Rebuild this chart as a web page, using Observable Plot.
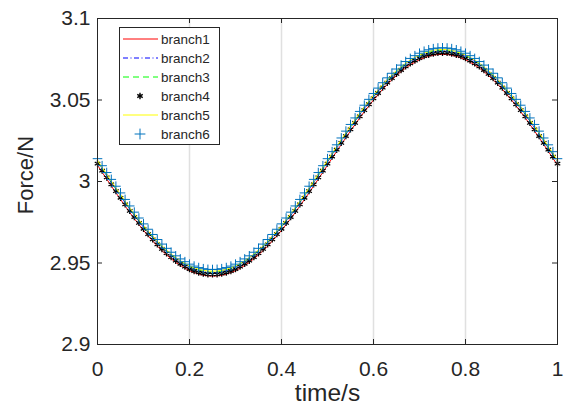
<!DOCTYPE html>
<html>
<head>
<meta charset="utf-8">
<script src="https://cdn.jsdelivr.net/npm/d3@7"></script>
<script src="https://cdn.jsdelivr.net/npm/@observablehq/plot@0.6"></script>
<style>
  html, body { margin: 0; padding: 0; background: #fff; }
  #chart { width: 567px; height: 412px; }
</style>
</head>
<body>
<div id="chart"></div>
<script>
// ---- data ----
const time = [0,0.01,0.02,0.03,0.04,0.05,0.06,0.07,0.08,0.09,0.1,0.11,0.12,0.13,0.14,0.15,0.16,0.17,0.18,0.19,0.2,0.21,0.22,0.23,0.24,0.25,0.26,0.27,0.28,0.29,0.3,0.31,0.32,0.33,0.34,0.35,0.36,0.37,0.38,0.39,0.4,0.41,0.42,0.43,0.44,0.45,0.46,0.47,0.48,0.49,0.5,0.51,0.52,0.53,0.54,0.55,0.56,0.57,0.58,0.59,0.6,0.61,0.62,0.63,0.64,0.65,0.66,0.67,0.68,0.69,0.7,0.71,0.72,0.73,0.74,0.75,0.76,0.77,0.78,0.79,0.8,0.81,0.82,0.83,0.84,0.85,0.86,0.87,0.88,0.89,0.9,0.91,0.92,0.93,0.94,0.95,0.96,0.97,0.98,0.99,1];

const branch1 = [3.0100,3.0057,3.0015,2.9973,2.9931,2.9890,2.9850,2.9810,2.9772,2.9736,2.9700,2.9667,2.9635,2.9604,2.9576,2.9550,2.9526,2.9504,2.9485,2.9468,2.9453,2.9441,2.9432,2.9425,2.9421,2.9420,
2.9421,2.9425,2.9432,2.9441,2.9453,2.9468,2.9485,2.9504,2.9526,2.9550,2.9576,2.9604,2.9635,2.9667,2.9700,2.9736,2.9772,2.9810,2.9850,2.9890,2.9931,2.9973,3.0015,3.0057,3.0100,
3.0143,3.0185,3.0227,3.0269,3.0310,3.0350,3.0390,3.0428,3.0464,3.0500,3.0533,3.0566,3.0596,3.0624,3.0650,3.0674,3.0696,3.0715,3.0732,3.0747,3.0759,3.0768,3.0775,3.0779,3.0780,
3.0779,3.0775,3.0768,3.0759,3.0747,3.0732,3.0715,3.0696,3.0674,3.0650,3.0624,3.0596,3.0566,3.0533,3.0500,3.0464,3.0428,3.0390,3.0350,3.0310,3.0269,3.0227,3.0185,3.0143,3.0100];

const branch2 = [3.0120,3.0077,3.0035,2.9993,2.9951,2.9910,2.9870,2.9830,2.9792,2.9756,2.9720,2.9687,2.9655,2.9624,2.9596,2.9570,2.9546,2.9524,2.9505,2.9488,2.9473,2.9461,2.9452,2.9445,2.9441,2.9440,
2.9441,2.9445,2.9452,2.9461,2.9473,2.9488,2.9505,2.9524,2.9546,2.9570,2.9596,2.9624,2.9655,2.9687,2.9720,2.9756,2.9792,2.9830,2.9870,2.9910,2.9951,2.9993,3.0035,3.0077,3.0120,
3.0163,3.0205,3.0247,3.0289,3.0330,3.0370,3.0410,3.0448,3.0484,3.0520,3.0553,3.0586,3.0616,3.0644,3.0670,3.0694,3.0716,3.0735,3.0752,3.0767,3.0779,3.0788,3.0795,3.0799,3.0800,
3.0799,3.0795,3.0788,3.0779,3.0767,3.0752,3.0735,3.0716,3.0694,3.0670,3.0644,3.0616,3.0586,3.0553,3.0520,3.0484,3.0448,3.0410,3.0370,3.0330,3.0289,3.0247,3.0205,3.0163,3.0120];

const branch3 = [3.0125,3.0082,3.0040,2.9998,2.9956,2.9915,2.9875,2.9835,2.9797,2.9761,2.9725,2.9692,2.9660,2.9629,2.9601,2.9575,2.9551,2.9529,2.9510,2.9493,2.9478,2.9466,2.9457,2.9450,2.9446,2.9445,
2.9446,2.9450,2.9457,2.9466,2.9478,2.9493,2.9510,2.9529,2.9551,2.9575,2.9601,2.9629,2.9660,2.9692,2.9725,2.9761,2.9797,2.9835,2.9875,2.9915,2.9956,2.9998,3.0040,3.0082,3.0125,
3.0168,3.0210,3.0252,3.0294,3.0335,3.0375,3.0415,3.0453,3.0489,3.0525,3.0558,3.0591,3.0621,3.0649,3.0675,3.0699,3.0721,3.0740,3.0757,3.0772,3.0784,3.0793,3.0800,3.0804,3.0805,
3.0804,3.0800,3.0793,3.0784,3.0772,3.0757,3.0740,3.0721,3.0699,3.0675,3.0649,3.0621,3.0591,3.0558,3.0525,3.0489,3.0453,3.0415,3.0375,3.0335,3.0294,3.0252,3.0210,3.0168,3.0125];

const branch4 = [3.0110,3.0067,3.0025,2.9983,2.9941,2.9900,2.9860,2.9820,2.9782,2.9746,2.9710,2.9677,2.9645,2.9614,2.9586,2.9560,2.9536,2.9514,2.9495,2.9478,2.9463,2.9451,2.9442,2.9435,2.9431,2.9430,
2.9431,2.9435,2.9442,2.9451,2.9463,2.9478,2.9495,2.9514,2.9536,2.9560,2.9586,2.9614,2.9645,2.9677,2.9710,2.9746,2.9782,2.9820,2.9860,2.9900,2.9941,2.9983,3.0025,3.0067,3.0110,
3.0153,3.0195,3.0237,3.0279,3.0320,3.0360,3.0400,3.0438,3.0474,3.0510,3.0543,3.0576,3.0606,3.0634,3.0660,3.0684,3.0706,3.0725,3.0742,3.0757,3.0769,3.0778,3.0785,3.0789,3.0790,
3.0789,3.0785,3.0778,3.0769,3.0757,3.0742,3.0725,3.0706,3.0684,3.0660,3.0634,3.0606,3.0576,3.0543,3.0510,3.0474,3.0438,3.0400,3.0360,3.0320,3.0279,3.0237,3.0195,3.0153,3.0110];

const branch5 = [3.0130,3.0087,3.0045,3.0003,2.9961,2.9920,2.9880,2.9840,2.9802,2.9766,2.9730,2.9697,2.9665,2.9634,2.9606,2.9580,2.9556,2.9534,2.9515,2.9498,2.9483,2.9471,2.9462,2.9455,2.9451,2.9450,
2.9451,2.9455,2.9462,2.9471,2.9483,2.9498,2.9515,2.9534,2.9556,2.9580,2.9606,2.9634,2.9665,2.9697,2.9730,2.9766,2.9802,2.9840,2.9880,2.9920,2.9961,3.0003,3.0045,3.0087,3.0130,
3.0173,3.0215,3.0257,3.0299,3.0340,3.0380,3.0420,3.0458,3.0494,3.0530,3.0563,3.0596,3.0626,3.0654,3.0680,3.0704,3.0726,3.0745,3.0762,3.0777,3.0789,3.0798,3.0805,3.0809,3.0810,
3.0809,3.0805,3.0798,3.0789,3.0777,3.0762,3.0745,3.0726,3.0704,3.0680,3.0654,3.0626,3.0596,3.0563,3.0530,3.0494,3.0458,3.0420,3.0380,3.0340,3.0299,3.0257,3.0215,3.0173,3.0130];

const branch6 = [3.0140,3.0097,3.0055,3.0013,2.9971,2.9930,2.9890,2.9850,2.9812,2.9776,2.9740,2.9707,2.9675,2.9644,2.9616,2.9590,2.9566,2.9544,2.9525,2.9508,2.9493,2.9481,2.9472,2.9465,2.9461,2.9460,
2.9461,2.9465,2.9472,2.9481,2.9493,2.9508,2.9525,2.9544,2.9566,2.9590,2.9616,2.9644,2.9675,2.9707,2.9740,2.9776,2.9812,2.9850,2.9890,2.9930,2.9971,3.0013,3.0055,3.0097,3.0140,
3.0183,3.0225,3.0267,3.0309,3.0350,3.0390,3.0430,3.0468,3.0504,3.0540,3.0573,3.0606,3.0636,3.0664,3.0690,3.0714,3.0736,3.0755,3.0772,3.0787,3.0799,3.0808,3.0815,3.0819,3.0820,
3.0819,3.0815,3.0808,3.0799,3.0787,3.0772,3.0755,3.0736,3.0714,3.0690,3.0664,3.0636,3.0606,3.0573,3.0540,3.0504,3.0468,3.0430,3.0390,3.0350,3.0309,3.0267,3.0225,3.0183,3.0140];

const seriesNames = ["branch1","branch2","branch3","branch4","branch5","branch6"];
const xTicks = [0, 0.2, 0.4, 0.6, 0.8, 1];
const xTickLabels = ["0","0.2","0.4","0.6","0.8","1"];
const yTicks = [2.9, 2.95, 3, 3.05, 3.1];
const yTickLabels = ["2.9","2.95","3","3.05","3.1"];
const xLabel = "time/s";
const yLabel = "Force/N";

// ---- build tables ----
const values = [branch1, branch2, branch3, branch4, branch5, branch6];
const tables = values.map((arr, s) => time.map((t, i) => ({t, v: arr[i], s: seriesNames[s]})));

const FONT = "'Liberation Sans', Arial, Helvetica, sans-serif";
const INK = "#262626";
const W = 567, H = 412, ML = 97, MR = 10, MT = 18, MB = 68;
const frameH = H - MT - MB, frameW = W - ML - MR, TICK = 5;

const chart = Plot.plot({
  width: W, height: H,
  marginLeft: ML, marginRight: MR, marginTop: MT, marginBottom: MB,
  style: {fontFamily: FONT, color: INK, background: "#fff", overflow: "visible"},
  x: {domain: [0, 1]},
  y: {domain: [2.9, 3.1]},
  marks: [
    Plot.ruleX(xTicks.slice(1, -1), {stroke: "#e0e0e0", strokeWidth: 1.5}),
    Plot.line(tables[0], {x: "t", y: "v", stroke: "#ff0000", strokeWidth: 1}),
    Plot.line(tables[1], {x: "t", y: "v", stroke: "#0000ff", strokeWidth: 0.8, strokeDasharray: "5,2.5,1,2.5"}),
    Plot.line(tables[2], {x: "t", y: "v", stroke: "#00ff00", strokeWidth: 0.8, strokeDasharray: "6,4"}),
    Plot.dot(tables[3], {x: "t", y: "v", symbol: "asterisk", r: 3.0, stroke: "#000", strokeWidth: 1.25}),
    Plot.line(tables[4], {x: "t", y: "v", stroke: "#ffff00", strokeWidth: 1}),
    Plot.dot(tables[5], {x: "t", y: "v", symbol: "plus", r: 3.2, stroke: "#0072bd", strokeWidth: 1}),
    Plot.frame({stroke: INK, strokeWidth: 1}),
    // inward ticks (MATLAB style)
    Plot.tickX(xTicks, {x: d => d, stroke: INK, insetTop: frameH - TICK}),
    Plot.tickX(xTicks, {x: d => d, stroke: INK, insetBottom: frameH - TICK}),
    Plot.tickY(yTicks, {y: d => d, stroke: INK, insetRight: frameW - TICK}),
    Plot.tickY(yTicks, {y: d => d, stroke: INK, insetLeft: frameW - TICK}),
    Plot.axisX({ticks: xTicks, tickSize: 0, tickPadding: 17, fontSize: 21, tickFormat: (d, i) => xTickLabels[i], label: null, color: INK}),
    Plot.axisY({ticks: yTicks, tickSize: 0, tickPadding: 7, fontSize: 21, tickFormat: (d, i) => yTickLabels[i], label: null, color: INK}),
    Plot.text([xLabel], {text: d => d, frameAnchor: "bottom", dy: 49, fontSize: 24.5, fill: INK, lineAnchor: "middle"})
  ]
});

const svg = d3.select(chart);

// ---- y-axis title ----
svg.append("text")
  .attr("transform", "translate(33,175) rotate(-90)")
  .attr("text-anchor", "middle")
  .attr("font-family", FONT).attr("font-size", 22).attr("fill", INK)
  .text(yLabel);

// ---- legend (MATLAB-style box in the upper-left) ----
const lg = svg.append("g").attr("font-family", FONT).attr("text-anchor", "start");
const bx = 119, by = 27, bw = 100, bh = 117, row0 = 39, rowStep = 19;
lg.append("rect").attr("x", bx + 0.5).attr("y", by + 0.5).attr("width", bw).attr("height", bh)
  .attr("fill", "#fff").attr("stroke", INK).attr("stroke-width", 1);
const styles = [
  {type: "line", stroke: "#ff0000", dash: null},
  {type: "line", stroke: "#0000ff", dash: "5,2.5,1,2.5"},
  {type: "line", stroke: "#00ff00", dash: "6,4"},
  {type: "sym", stroke: "#000", sym: d3.symbolAsterisk, size: 28, sw: 1.4},
  {type: "line", stroke: "#ffff00", dash: null},
  {type: "sym", stroke: "#0072bd", sym: d3.symbolPlus, size: 40, sw: 1}
];
seriesNames.forEach((name, i) => {
  const y = row0 + i * rowStep;
  const st = styles[i];
  if (st.type === "line") {
    lg.append("line").attr("x1", 123).attr("x2", 158).attr("y1", y).attr("y2", y)
      .attr("stroke", st.stroke).attr("stroke-width", 1).attr("stroke-dasharray", st.dash);
  } else {
    lg.append("path").attr("transform", `translate(140,${y})`)
      .attr("d", d3.symbol(st.sym, st.size)()).attr("fill", "none").attr("stroke", st.stroke).attr("stroke-width", st.sw);
  }
  lg.append("text").attr("x", 161).attr("y", y).attr("dy", "0.35em")
    .attr("text-anchor", "start").attr("font-size", 13.5).attr("fill", INK).text(name);
});

document.getElementById("chart").appendChild(chart);
</script>
</body>
</html>
